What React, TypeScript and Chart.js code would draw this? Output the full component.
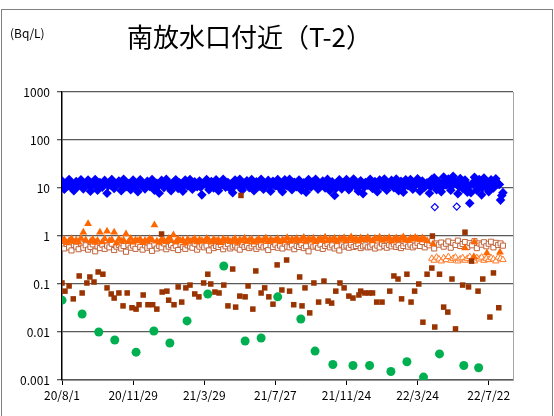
import React, { useEffect, useRef } from 'react';
import { Chart, registerables } from 'chart.js';
Chart.register(...registerables);

const TITLE = '南放水口付近（T-2）';
const UNIT = '(Bq/L)';
const X_TICK_DAYS = [0, 120, 240, 360, 480, 600, 720];
const X_TICK_LABELS = ['20/8/1', '20/11/29', '21/3/29', '21/7/27', '21/11/24', '22/3/24', '22/7/22'];
const Y_TICKS = [0.001, 0.01, 0.1, 1, 10, 100, 1000];
const Y_TICK_LABELS = ['0.001', '0.01', '0.1', '1', '10', '100', '1000'];

// dense series: one value every DENSE_STEP days
const DENSE_STEP = 4;
const BLUE_START = 0;
const BLUE_VALUES = [
  14.2, 9.4, 12.6, 15.0, 10.2, 8.8, 13.6, 11.0, 14.8, 9.6,
  12.2, 14.6, 8.6, 11.4, 15.0, 9.0, 13.0, 10.4, 14.4, 7.8,
  12.8, 15.0, 9.8, 11.8, 14.0, 8.8, 15.2, 10.6, 12.4, 9.2,
  14.6, 11.2, 8.4, 14.8, 12.0, 9.6, 13.8, 10.8, 15.0, 9.0,
  12.6, 7.8, 14.4, 10.2, 15.2, 11.6, 8.8, 13.2, 14.8, 9.8,
  12.2, 8.6, 14.6, 11.0, 15.0, 9.4, 13.4, 10.6, 14.0, 7.2,
  12.4, 15.0, 9.2, 13.6, 10.0, 14.8, 8.8, 12.8, 15.2, 10.4,
  13.0, 9.6, 8.0, 14.6, 11.4, 15.2, 9.0, 12.6, 14.2, 10.2,
  15.0, 8.8, 13.4, 10.8, 15.2, 9.4, 12.0, 14.4, 8.6, 13.8,
  11.2, 15.0, 9.8, 8.4, 14.8, 11.0, 15.2, 9.2, 13.2, 10.6,
  14.6, 9.0, 12.8, 8.2, 15.0, 10.4, 13.6, 15.2, 9.4, 12.2,
  14.0, 10.0, 15.2, 8.8, 13.4, 7.0, 12.6, 14.8, 9.6, 13.0,
  15.0, 9.2, 12.4, 15.4, 10.6, 8.6, 14.2, 7.6, 13.0, 11.4,
  15.2, 9.8, 13.6, 8.4, 14.6, 10.8, 15.4, 9.0, 12.2, 14.4,
  10.2, 15.4, 8.8, 13.8, 8.2, 14.8, 11.2, 15.0, 9.4, 13.2,
  15.6, 8.6, 14.0, 10.4, 12.8, 7.8, 15.2, 16.4, 9.2, 13.6,
  8.4, 17.0, 11.6, 15.4, 9.0, 17.6, 12.8, 7.6, 15.8, 9.8,
  14.6, 8.2, 4.8, 12.4, 16.8, 9.0, 15.0, 7.2, 16.2, 10.4,
  8.4, 14.8, 10.0, 15.6, 12.2, 5.6, 8.0,
];
const BLUE_B_START = 2;
const BLUE_B_VALUES = [
  11.8, 12.4, 11.2, 12.8, 11.6, 12.2, 10.8, 12.6, 11.4, 12.0,
  12.4, 11.0, 12.2, 11.8, 12.6, 10.6, 12.0, 11.6, 12.8, 11.2,
  11.6, 12.4, 11.0, 12.2, 12.6, 11.4, 12.0, 11.8, 10.8, 12.4,
  12.2, 11.6, 12.8, 11.0, 12.0, 11.4, 12.6, 11.8, 12.2, 11.2,
  11.0, 12.4, 11.8, 12.6, 11.2, 12.0, 10.6, 12.2, 11.6, 12.8,
  12.0, 11.4, 12.6, 11.8, 12.2, 11.0, 12.4, 11.6, 10.4, 11.8,
  12.6, 11.2, 12.0, 11.8, 12.4, 11.0, 12.2, 11.6, 12.8, 11.4,
  11.8, 12.4, 10.8, 12.0, 11.6, 12.6, 11.2, 12.2, 11.8, 12.4,
  12.2, 11.4, 12.6, 11.0, 12.0, 11.8, 12.4, 11.2, 12.6, 11.6,
  11.4, 12.2, 11.8, 10.6, 12.4, 11.6, 12.0, 11.2, 12.6, 11.8,
  12.0, 11.4, 12.2, 10.8, 12.6, 11.6, 12.0, 12.4, 11.2, 11.8,
  12.4, 11.6, 12.0, 11.0, 12.2, 9.8, 11.8, 12.6, 11.4, 12.0,
  12.2, 11.4, 11.8, 12.6, 11.6, 10.8, 12.4, 10.4, 12.0, 11.6,
  12.4, 11.2, 12.0, 11.0, 12.6, 11.8, 12.2, 11.4, 11.8, 12.4,
  11.6, 12.6, 11.2, 12.0, 10.8, 12.4, 11.8, 12.2, 11.0, 12.6,
  12.4, 11.0, 12.2, 11.6, 12.0, 10.6, 12.8, 13.0, 11.4, 12.2,
  10.8, 13.2, 12.0, 12.8, 11.2, 13.4, 12.2, 10.6, 12.8, 11.6,
  12.4, 10.8, 8.0, 11.8, 13.0, 11.2, 12.6, 10.2, 12.8, 11.8,
  10.6, 12.6, 11.6, 12.8, 11.8, 7.0,
];
const BLUE_HOLLOW_DAYS = [629, 666];
const BLUE_HOLLOW_VALUES = [4.0, 4.1];

const ORANGE_START = 0;
const ORANGE_VALUES = [
  0.78, 0.85, 0.72, 0.80, 0.88, 0.76, 0.82, 0.74, 0.90, 1.2,
  0.83, 1.8, 0.77, 0.86, 0.73, 0.81, 1.2, 0.75, 0.88, 1.25,
  0.80, 0.84, 1.2, 0.71, 0.87, 0.78, 0.82, 1.1, 0.76, 0.89,
  0.74, 0.83, 0.79, 0.86, 0.72, 0.81, 0.77, 0.88, 0.84, 1.7,
  0.78, 0.73, 0.85, 0.80, 0.76, 0.89, 0.82, 1.05, 0.74, 0.87,
  0.79, 0.83, 0.71, 0.86, 0.78, 0.81, 0.88, 0.75, 0.84, 0.80,
  0.77, 0.89, 0.82, 0.74, 0.86, 0.79, 0.83, 0.72, 0.87, 0.80,
  0.85, 0.76, 0.81, 0.88, 0.73, 0.84, 0.79, 0.90, 0.77, 0.82,
  0.86, 0.74, 0.80, 0.87, 0.78, 0.83, 0.91, 0.76, 0.85, 0.79,
  0.82, 0.88, 0.75, 0.84, 0.80, 0.92, 0.77, 0.86, 0.81, 0.89,
  0.79, 0.85, 0.93, 0.78, 0.87, 0.82, 0.90, 0.76, 0.84, 0.88,
  0.81, 0.94, 0.79, 0.86, 0.83, 0.90, 0.77, 0.88, 0.85, 0.92,
  0.80, 0.87, 0.95, 0.82, 0.89, 0.78, 0.91, 0.84, 0.86, 0.93,
  0.83, 0.79, 0.90, 0.86, 0.94, 0.81, 0.88, 0.85, 0.92, 0.78,
  0.87, 0.91, 0.82, 0.89, 0.95, 0.84, 0.80, 0.90, 0.86, 0.93,
  0.88, 0.83, 0.91, 0.85, 0.80,
];
const ORANGE_LATE_DAYS = [626, 680, 696, 695, 717, 739];
const ORANGE_LATE_VALUES = [0.68, 0.56, 0.75, 0.37, 0.44, 0.46];

const ORANGE_HOLLOW_START = 624;
const ORANGE_HOLLOW_VALUES = [
  0.34, 0.31, 0.36, 0.33, 0.30, 0.35, 0.32, 0.37, 0.31, 0.34,
  0.36, 0.30, 0.33, 0.35, 0.31, 0.34, 0.37, 0.32, 0.30, 0.35,
  0.33, 0.36, 0.31, 0.34, 0.32, 0.35, 0.33, 0.30, 0.36, 0.34, 0.32,
];

const SQUARE_HOLLOW_START = 0;
const SQUARE_HOLLOW_VALUES = [
  0.62, 0.55, 0.68, 0.58, 0.50, 0.65, 0.60, 0.53, 0.70, 0.57,
  0.64, 0.52, 0.59, 0.67, 0.48, 0.61, 0.56, 0.66, 0.54, 0.63,
  0.58, 0.69, 0.51, 0.60, 0.65, 0.55, 0.62, 0.47, 0.66, 0.57,
  0.63, 0.54, 0.68, 0.59, 0.52, 0.64, 0.57, 0.61, 0.49, 0.66,
  0.55, 0.62, 0.58, 0.70, 0.53, 0.60, 0.65, 0.56, 0.63, 0.51,
  0.67, 0.59, 0.54, 0.64, 0.61, 0.57, 0.69, 0.52, 0.60, 0.66,
  0.58, 0.63, 0.50, 0.67, 0.56, 0.62, 0.59, 0.65, 0.53, 0.61,
  0.68, 0.55, 0.60, 0.64, 0.57, 0.52, 0.66, 0.59, 0.63, 0.56,
  0.61, 0.67, 0.54, 0.60, 0.65, 0.58, 0.62, 0.51, 0.64, 0.59,
  0.66, 0.57, 0.63, 0.55, 0.69, 0.60, 0.58, 0.64, 0.53, 0.62,
  0.59, 0.65, 0.56, 0.61, 0.48, 0.67, 0.60, 0.63, 0.57, 0.66,
  0.54, 0.62, 0.68, 0.58, 0.64, 0.55, 0.61, 0.50, 0.66, 0.60,
  0.63, 0.57, 0.65, 0.59, 0.62, 0.68, 0.56, 0.61, 0.64, 0.58,
  0.60, 0.66, 0.55, 0.63, 0.58, 0.69, 0.62, 0.57, 0.65, 0.61,
  0.67, 0.59, 0.64, 0.56, 0.62, 0.70, 0.60, 0.66, 0.58, 0.63,
  0.71, 0.62, 0.75, 0.58, 0.68, 0.64, 0.78, 0.55, 0.70, 0.66,
  0.73, 0.60, 0.69, 0.77, 0.57, 0.72, 0.65, 0.80, 0.62, 0.68,
  0.75, 0.59, 0.71, 0.64, 0.78, 0.56, 0.70, 0.66, 0.74, 0.61,
  0.69, 0.76, 0.58, 0.72, 0.65, 0.70, 0.63,
];

const SQUARE_FILLED_DAYS = [
  0, 5, 12, 19, 29, 34, 42, 47, 54, 61, 69, 76, 83, 88, 96, 103, 110, 118, 125, 130,
  137, 145, 153, 160, 168, 169, 177, 180, 189, 196, 202, 209, 216, 224, 231, 239, 246, 251, 258, 265,
  273, 280, 288, 293, 300, 302, 309, 314, 322, 327, 336, 342, 349, 356, 363, 371, 379, 384, 391, 401,
  405, 410, 418, 425, 433, 442, 449, 455, 462, 469, 476, 484, 491, 501, 504, 511, 518, 524, 531, 540,
  553, 560, 567, 573, 582, 589, 595, 602, 609, 616, 624, 625, 629, 637, 644, 651, 658, 664, 676, 680,
  686, 691, 702, 710, 722, 728, 737,
];
const SQUARE_FILLED_VALUES = [
  0.105, 0.071, 0.091, 0.049, 0.147, 0.065, 0.105, 0.14, 0.11, 0.178, 0.16, 0.083, 0.062, 0.051, 0.065, 0.035, 0.065, 0.032, 0.030, 0.037,
  0.059, 0.037, 0.037, 0.030, 1.1, 0.068, 0.071, 0.046, 0.037, 0.087, 0.042, 0.083, 0.095, 0.062, 0.054, 0.105, 0.16, 0.1, 0.068, 0.065,
  0.095, 0.035, 0.205, 0.033, 0.056, 7.0, 0.054, 0.091, 0.030, 0.187, 0.065, 0.083, 0.054, 0.038, 0.25, 0.075, 0.316, 0.071, 0.037, 0.14,
  0.035, 0.083, 0.025, 0.105, 0.042, 0.115, 0.044, 0.04, 0.071, 0.105, 0.083, 0.056, 0.051, 0.059, 0.071, 0.065, 0.065, 0.065, 0.042, 0.042,
  0.071, 0.147, 0.127, 0.049, 0.16, 0.042, 0.071, 0.1, 0.016, 0.16, 0.215, 1.0, 0.0127, 0.16, 0.033, 0.026, 0.127, 0.0116, 0.095, 1.2,
  0.087, 0.3, 0.071, 0.127, 0.0205, 0.17, 0.032,
];

const CIRCLE_DAYS = [0, 34, 62, 89, 125, 155, 182, 211, 246, 273, 309, 336, 364, 403, 427, 457, 491, 519, 555, 582, 610, 637, 678, 703];
const CIRCLE_VALUES = [
  0.046, 0.0237, 0.01, 0.0068, 0.0038, 0.0105, 0.0059, 0.017, 0.062, 0.237, 0.0065, 0.0075,
  0.054, 0.0187, 0.004, 0.0021, 0.002, 0.002, 0.0015, 0.0024, 0.00115, 0.0035, 0.002, 0.0018,
];

const X_MIN = 0;
const X_MAX = 761;

const FONT = '"Noto Sans CJK JP", "Noto Sans", sans-serif';

function regular(start: number, values: number[]) {
  return values.map((v, i) => ({ x: start + i * DENSE_STEP, y: v }));
}
function pairs(days: number[], values: number[]) {
  return days.map((d, i) => ({ x: d, y: values[i] }));
}

const decorPlugin = {
  id: 'decor',
  beforeDraw(chart: any) {
    const ctx = chart.ctx;
    ctx.save();
    ctx.fillStyle = '#ffffff';
    ctx.fillRect(0, 0, chart.width, chart.height);
    ctx.restore();
  },
  afterDraw(chart: any) {
    const ctx = chart.ctx;
    const a = chart.chartArea;
    ctx.save();
    ctx.strokeStyle = '#7f7f7f';
    ctx.lineWidth = 1;
    ctx.strokeRect(1.5, 9.5, chart.width - 3, chart.height + 10);
    ctx.strokeStyle = '#a6a6a6';
    ctx.beginPath();
    ctx.moveTo(Math.round(a.right) + 0.5, a.top);
    ctx.lineTo(Math.round(a.right) + 0.5, a.bottom);
    ctx.stroke();
    ctx.fillStyle = '#000';
    ctx.textBaseline = 'middle';
    ctx.textAlign = 'left';
    ctx.font = `26px ${FONT}`;
    ctx.fillText(TITLE, 127, 37);
    ctx.font = `12px ${FONT}`;
    ctx.fillText(UNIT, 10, 33);
    ctx.restore();
  },
};

export default function App() {
  const ref = useRef<HTMLCanvasElement>(null);
  useEffect(() => {
    document.body.style.margin = '0';
    const canvas = ref.current!;
    const blueStyle = {
      pointStyle: 'rectRot',
      pointRadius: 4.8,
      backgroundColor: '#0000ff',
      borderColor: '#0000ff',
      borderWidth: 0,
    };
    const chart = new Chart(canvas, {
      type: 'scatter',
      data: {
        datasets: [
          {
            label: 'circle',
            data: pairs(CIRCLE_DAYS, CIRCLE_VALUES),
            pointStyle: 'circle',
            pointRadius: 4.5,
            backgroundColor: '#00b050',
            borderColor: '#00b050',
            borderWidth: 0,
          },
          {
            label: 'square filled',
            data: pairs(SQUARE_FILLED_DAYS, SQUARE_FILLED_VALUES),
            pointStyle: 'rect',
            pointRadius: 3.9,
            backgroundColor: '#993300',
            borderColor: '#993300',
            borderWidth: 0,
          },
          {
            label: 'blue hollow',
            data: pairs(BLUE_HOLLOW_DAYS, BLUE_HOLLOW_VALUES),
            pointStyle: 'rectRot',
            pointRadius: 3.5,
            backgroundColor: '#ffffff',
            borderColor: '#0000ff',
            borderWidth: 1.2,
          },
          { label: 'blue', data: regular(BLUE_START, BLUE_VALUES), ...blueStyle },
          { label: 'blue b', data: regular(BLUE_B_START, BLUE_B_VALUES), ...blueStyle },
          {
            label: 'orange late',
            data: pairs(ORANGE_LATE_DAYS, ORANGE_LATE_VALUES),
            pointStyle: 'triangle',
            pointRadius: 4.5,
            backgroundColor: '#ff6600',
            borderColor: '#ff6600',
            borderWidth: 0,
          },
          {
            label: 'orange hollow',
            data: regular(ORANGE_HOLLOW_START, ORANGE_HOLLOW_VALUES),
            pointStyle: 'triangle',
            pointRadius: 3.7,
            backgroundColor: '#ffffff',
            borderColor: '#ff7a26',
            borderWidth: 1,
          },
          {
            label: 'orange',
            data: regular(ORANGE_START, ORANGE_VALUES),
            pointStyle: 'triangle',
            pointRadius: 4.5,
            backgroundColor: '#ff6600',
            borderColor: '#ff6600',
            borderWidth: 0,
          },
          {
            label: 'square hollow',
            data: regular(SQUARE_HOLLOW_START, SQUARE_HOLLOW_VALUES),
            pointStyle: 'rect',
            pointRadius: 3.6,
            backgroundColor: '#ffffff',
            borderColor: '#c0643c',
            borderWidth: 1,
          },
        ],
      },
      options: {
        animation: false,
        responsive: false,
        maintainAspectRatio: false,
        events: [],
        layout: { padding: { top: 92, right: 41, left: 0, bottom: 0 } },
        plugins: { legend: { display: false }, tooltip: { enabled: false }, title: { display: false } },
        scales: {
          x: {
            type: 'linear',
            min: X_MIN,
            max: X_MAX,
            afterBuildTicks: (s: any) => {
              s.ticks = X_TICK_DAYS.map((v) => ({ value: v }));
            },
            afterFit: (s: any) => {
              s.height = 36;
            },
            ticks: {
              autoSkip: false,
              maxRotation: 0,
              padding: 3,
              color: '#000',
              font: { family: FONT, size: 12 },
              callback: (v: any) => {
                const i = X_TICK_DAYS.indexOf(Number(v));
                return i >= 0 ? X_TICK_LABELS[i] : '';
              },
            },
            grid: { drawOnChartArea: false, drawTicks: true, tickLength: 5, color: '#000', lineWidth: 1 },
            border: { display: true, color: '#595959', width: 1.5 },
          },
          y: {
            type: 'logarithmic',
            min: 0.001,
            max: 1000,
            afterBuildTicks: (s: any) => {
              s.ticks = Y_TICKS.map((v) => ({ value: v, major: true }));
            },
            afterFit: (s: any) => {
              s.width = 62;
            },
            ticks: {
              autoSkip: false,
              padding: 7,
              color: '#000',
              font: { family: FONT, size: 12 },
              callback: (v: any) => {
                const i = Y_TICKS.findIndex((t) => Math.abs(t - Number(v)) / t < 1e-6);
                return i >= 0 ? Y_TICK_LABELS[i] : '';
              },
            },
            grid: { color: '#595959', lineWidth: 1.3, tickLength: 5, drawTicks: true },
            border: { display: true, color: '#000', width: 1.5 },
          },
        },
      },
      plugins: [decorPlugin],
    } as any);
    return () => chart.destroy();
  }, []);
  return (
    <canvas ref={ref} width={554} height={416} style={{ display: 'block', width: 554, height: 416 }} />
  );
}
